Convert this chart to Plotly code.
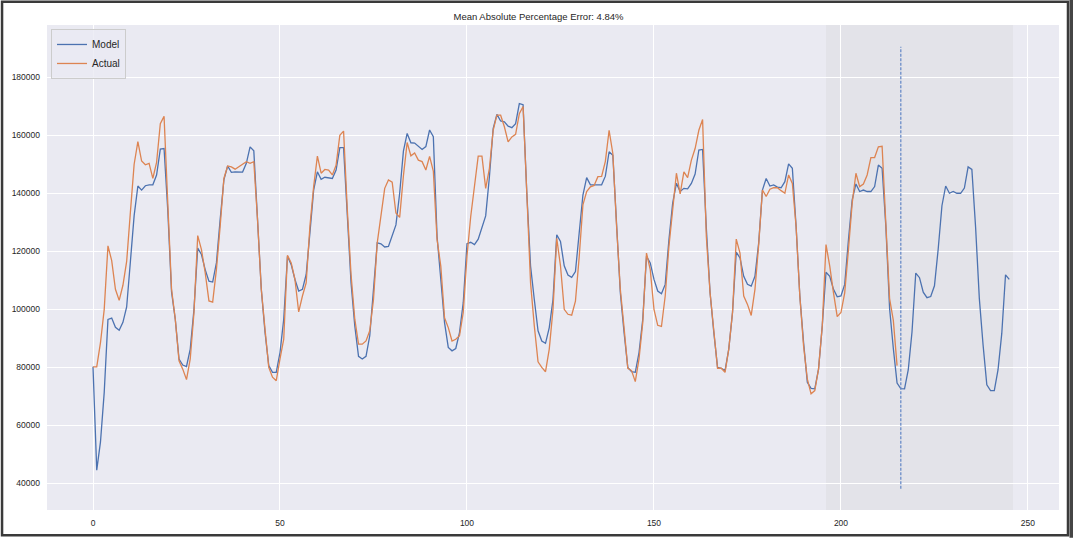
import plotly.graph_objects as go

# ---- data ----
model = [
    80200, 44600, 54300, 71400, 96500, 97000, 93800, 92800, 95500, 100800,
    116500, 132300, 142500, 141100, 142600, 142900, 142900, 146300, 155200, 155400,
    134000, 106000, 96600, 82900, 80800, 80300, 86300, 100000, 121100, 118900,
    113700, 109700, 109400, 116000, 130900, 144600, 149400, 147200, 147400, 147300,
    147300, 150300, 156000, 154600, 130900, 106900, 92000, 80600, 78300, 78300,
    85100, 96600, 118300, 115400, 110300, 106300, 106900, 112000, 126300, 141100,
    147400, 144800, 145500, 145400, 145100, 148000, 155700, 155700, 134300, 109100,
    94300, 83800, 82900, 83800, 90900, 105700, 122900, 122600, 121500, 121700,
    125100, 129100, 140000, 154500, 160600, 157400, 157300, 156100, 155100, 156100,
    161800, 159500, 125100, 110300, 95400, 86900, 85700, 86500, 92000, 102300,
    122600, 123100, 122300, 124200, 128000, 132200, 145700, 162300, 167200, 164900,
    164600, 163100, 162600, 164000, 170900, 170500, 140000, 114900, 103400, 92600,
    89100, 88300, 93700, 103400, 125700, 123400, 115000, 111800, 111000, 113000,
    126300, 139400, 145400, 142900, 142900, 142900, 142900, 145900, 154300, 153100,
    128600, 105700, 92000, 80000, 78500, 78300, 85100, 96600, 118300, 116000,
    110300, 106300, 105400, 108600, 124000, 136600, 143400, 140600, 141700, 141500,
    143400, 146600, 154900, 155100, 128000, 105700, 92000, 80000, 79700, 78900,
    86300, 98900, 119700, 117700, 111400, 108600, 108000, 111400, 122900, 141100,
    145100, 142500, 142900, 142100, 141900, 144000, 150100, 148600, 128600, 104600,
    88600, 74900, 72800, 72600, 79400, 94300, 112800, 111400, 106900, 104300,
    104600, 108600, 124000, 137700, 143200, 140600, 141100, 140600, 140600, 142300,
    149700, 148600, 128600, 100300, 86500, 74600, 72700, 72600, 79200, 92300,
    112500, 110900, 105900, 104000, 104400, 108100, 120800, 135700, 142500, 140000,
    140600, 140000, 140000, 141800, 149100, 148200, 128300, 103700, 87700, 74000,
    72000, 72000, 79200, 91700, 111900, 110300,
]

actual = [
    80200, 80200, 88500, 100000, 121900, 116800, 106900, 103100, 108300, 116500,
    133500, 150000, 157800, 151100, 149800, 150300, 145100, 150600, 164000, 166500,
    136500, 107000, 96600, 82300, 79400, 75800, 82900, 98900, 125400, 120600,
    112600, 102900, 102500, 113700, 128600, 145100, 149400, 149100, 148300, 149100,
    150100, 150900, 150300, 150900, 130900, 106900, 93100, 80000, 76600, 75400,
    82900, 89700, 118600, 116000, 110300, 99100, 104600, 109100, 128600, 142300,
    152800, 146900, 148200, 148000, 146300, 149700, 160000, 161400, 134300, 112000,
    96600, 88000, 88000, 89100, 92600, 103400, 122900, 132000, 141700, 144600,
    143800, 133200, 131700, 146000, 157500, 152900, 153900, 151400, 150900, 148000,
    152700, 147600, 124000, 114900, 97100, 93700, 89100, 89700, 90900, 98900,
    118300, 132000, 143400, 152800, 152800, 141700, 148600, 161700, 166900, 166900,
    162900, 157700, 159400, 160300, 167400, 169900, 140000, 109100, 94300, 81900,
    80000, 78500, 86300, 100000, 124500, 115000, 100000, 98300, 98000, 102800,
    118000, 136000, 140600, 142200, 142700, 145700, 145800, 151000, 161700, 153700,
    128600, 106900, 93700, 79700, 78900, 75100, 82900, 95400, 119400, 113700,
    100000, 94500, 94100, 104600, 121700, 135400, 146900, 139800, 147400, 145400,
    151400, 155400, 161700, 165400, 125100, 105700, 92000, 79700, 79700, 78300,
    86300, 98900, 124200, 119400, 104600, 101700, 97900, 106900, 122300, 141100,
    138900, 141400, 141900, 141900, 140900, 140000, 146300, 143400, 128600, 104600,
    87400, 76000, 70900, 72000, 79400, 94300, 122300, 114900, 105700, 97500,
    98900, 105700, 120600, 136600, 146900, 142300, 143200, 146300, 152300, 152300,
    156000, 156200, 129500, 103700, 96200, 80600,
]

series_len = 216          # end of actual data (dashed line)
span_start = 196          # shaded forecast region
span_end = 246
vline_low = 38150
vline_high = 190450
mape_text = "Mean Absolute Percentage Error: 4.84%"
x_ticks = [0, 50, 100, 150, 200, 250]
y_ticks = [40000, 60000, 80000, 100000, 120000, 140000, 160000, 180000]

# ---- figure ----
W, H = 1073, 540
L, R, T, B = 46, 14, 25, 27
pw, ph = W - L - R, H - T - B

def px(xp):
    return (xp - L) / pw

def py(yp):
    return (H - B - yp) / ph

font_family = "Liberation Sans, Arial, DejaVu Sans, sans-serif"

fig = go.Figure()
fig.add_trace(go.Scatter(
    x=list(range(len(model))), y=model, mode="lines", name="Model",
    line=dict(color="#4c72b0", width=1.3),
))
fig.add_trace(go.Scatter(
    x=list(range(len(actual))), y=actual, mode="lines", name="Actual",
    line=dict(color="#dd8452", width=1.3),
))

# shaded forecast span
fig.add_shape(type="rect", xref="x", yref="paper", x0=span_start, x1=span_end,
              y0=0, y1=1, fillcolor="rgba(211,211,211,0.3)",
              line=dict(width=0), layer="below")

# dashed vertical line at end of actual series
fig.add_shape(type="line", xref="x", yref="y", x0=series_len, x1=series_len,
              y0=vline_low, y1=vline_high, layer="above",
              line=dict(color="#6a8cc8", width=1.3, dash="3px,1.5px"))

# image frame
fig.add_shape(type="rect", xref="paper", yref="paper",
              x0=px(1), x1=px(1068), y0=py(538.5), y1=py(1.5), layer="above",
              line=dict(color="#3a3a3a", width=2.5), fillcolor="rgba(0,0,0,0)")
fig.add_shape(type="rect", xref="paper", yref="paper",
              x0=px(1069.5), x1=px(1074), y0=py(541), y1=py(-1), layer="above",
              line=dict(width=0), fillcolor="#454545")

fig.update_layout(
    width=W, height=H,
    margin=dict(l=L, r=R, t=T, b=B, pad=0),
    paper_bgcolor="white", plot_bgcolor="#eaeaf2",
    font=dict(family=font_family, size=9, color="#262626"),
    title=dict(text=mape_text, x=px(538), xref="paper", xanchor="center",
               y=1 - 17 / H, yref="container", yanchor="middle",
               font=dict(size=9.5, color="#262626")),
    showlegend=True,
    legend=dict(x=px(50), y=py(29), xanchor="left", yanchor="top",
                bgcolor="rgba(234,234,242,0.8)", bordercolor="#cccccc", borderwidth=1,
                font=dict(size=10, color="#262626"), itemwidth=30,
                tracegroupgap=0),
    xaxis=dict(range=[-12.3, 258.3], tickvals=x_ticks, showgrid=True,
               gridcolor="white", gridwidth=1, zeroline=False, showline=False,
               ticks="", tickfont=dict(size=8.5), ticklabelstandoff=6),
    yaxis=dict(range=[30856, 197979], tickvals=y_ticks, showgrid=True,
               gridcolor="white", gridwidth=1, zeroline=False, showline=False,
               ticks="", tickfont=dict(size=8.5), ticklabelstandoff=6,
               tickformat="d"),
)

fig.write_html("out.html")
